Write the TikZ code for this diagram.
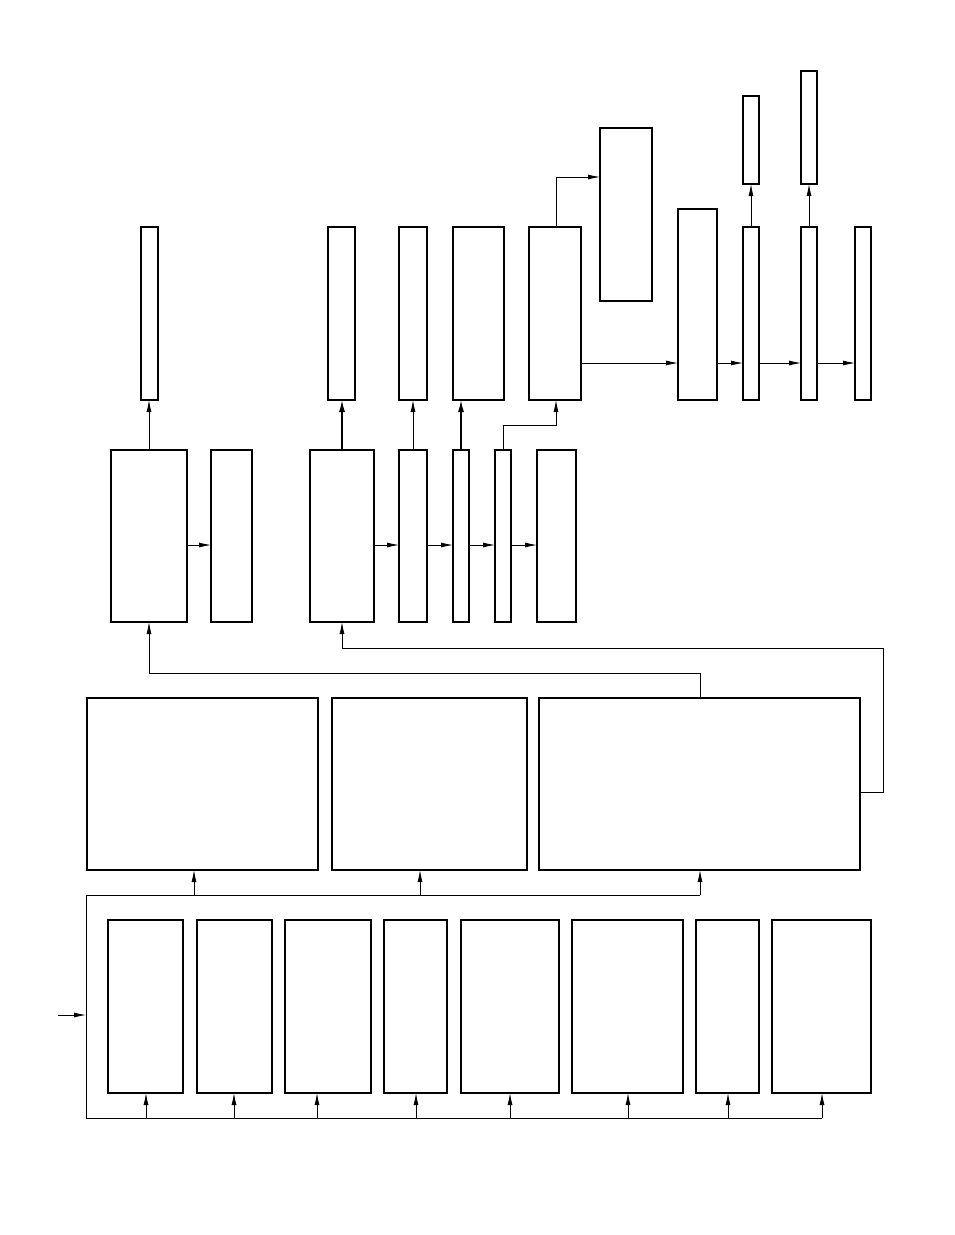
\documentclass[tikz,border=0pt]{standalone}
\usetikzlibrary{arrows.meta}
\tikzset{
  box/.style={draw=black,line width=1.3pt,inner sep=0pt,outer sep=0pt,rectangle,fill=none},
  conn/.style={draw=black,line width=0.8pt},
  arr/.style={conn,-{Latex[length=12pt,width=5pt]}},
  tconn/.style={draw=black,line width=1.4pt},
  tarr/.style={tconn,-{Latex[length=12pt,width=6pt]}}
}
\newcommand\bx[5]{\node[box,minimum width={(#4-#2)*1pt},minimum height={(#5-#3)*1pt}] (#1) at ({(#2+#4)/2},{(#3+#5)/2}) {};}
\begin{document}
\begin{tikzpicture}[x=1pt,y=-1pt]
\useasboundingbox (0,0) rectangle (954,1235);
% top row
\bx{A1}{141}{227}{158}{400}
\bx{A2}{328}{227}{355}{400}
\bx{A3}{399}{227}{427}{400}
\bx{A4}{453}{227}{504}{400}
\bx{A5}{529}{227}{581}{400}
\bx{A6}{600}{128}{652}{301}
\bx{A7}{678}{209}{717}{400}
\bx{A8}{743}{227}{759}{400}
\bx{U8}{743}{96}{759}{184}
\bx{A9}{801}{227}{817}{400}
\bx{U9}{801}{71}{817}{184}
\bx{A10}{855}{227}{871}{400}
% middle row
\bx{B1}{111}{450}{187}{622}
\bx{B2}{211}{450}{252}{622}
\bx{B3}{310}{450}{374}{622}
\bx{B4}{399}{450}{427}{622}
\bx{B5}{453}{450}{469}{622}
\bx{B6}{495}{450}{511}{622}
\bx{B7}{537}{450}{576}{622}
% third row
\bx{C1}{87}{698}{318}{870}
\bx{C2}{332}{698}{527}{870}
\bx{C3}{539}{698}{860}{870}
% bottom row
\bx{D1}{108}{920}{183}{1093}
\bx{D2}{197}{920}{272}{1093}
\bx{D3}{285}{920}{371}{1093}
\bx{D4}{384}{920}{447}{1093}
\bx{D5}{461}{920}{559}{1093}
\bx{D6}{572}{920}{683}{1093}
\bx{D7}{696}{920}{759}{1093}
\bx{D8}{772}{920}{871}{1093}
% coordinates
\coordinate (in) at (58,1015);
\coordinate (fl) at (86,1015);
\coordinate (ftl) at (86,895);
\coordinate (ftr) at (700,895);
\coordinate (fbl) at (86,1118);
\coordinate (fbr) at (822,1118);
% input and frame
\draw[arr] (in) -- (fl);
\draw[conn] (ftr) -- (ftl) -- (fbl) -- (fbr);
\foreach \n/\x in {D1/146,D2/234,D3/317,D4/416,D5/510,D6/628,D7/728,D8/822}{
  \draw[arr] (\x,1118) -- (\n.south -| \x,0);
}
\draw[arr] (194,895) -- (C1.south -| 194,0);
\draw[arr] (420,895) -- (C2.south -| 420,0);
\draw[arr] (ftr) -- (C3.south -| 700,0);
% C3 feedback lines
\draw[arr] (C3.north -| 700,0) -- (700,673) -- (149,673) -- (B1.south -| 149,0);
\draw[arr] (C3.east |- 0,792) -- (883,792) -- (883,648) -- (342,648) -- (B3.south -| 342,0);
% middle row horizontals
\draw[arr] (B1.east |- 0,545) -- (B2.west |- 0,545);
\draw[arr] (B3.east |- 0,545) -- (B4.west |- 0,545);
\draw[arr] (B4.east |- 0,545) -- (B5.west |- 0,545);
\draw[arr] (B5.east |- 0,545) -- (B6.west |- 0,545);
\draw[arr] (B6.east |- 0,545) -- (B7.west |- 0,545);
% middle to top
\draw[arr] (B1.north -| 149,0) -- (A1.south -| 149,0);
\draw[tarr] (B3.north -| 342,0) -- (A2.south -| 342,0);
\draw[arr] (B4.north -| 413,0) -- (A3.south -| 413,0);
\draw[tarr] (B5.north -| 461,0) -- (A4.south -| 461,0);
\draw[arr] (B6.north -| 503,0) -- (503,425) -- (556,425) -- (A5.south -| 556,0);
% top row
\draw[arr] (A5.north -| 556,0) -- (556,177) -- (A6.west |- 0,177);
\draw[arr] (A5.east |- 0,363) -- (A7.west |- 0,363);
\draw[arr] (A7.east |- 0,363) -- (A8.west |- 0,363);
\draw[arr] (A8.east |- 0,363) -- (A9.west |- 0,363);
\draw[arr] (A9.east |- 0,363) -- (A10.west |- 0,363);
\draw[arr] (A8.north) -- (U8.south);
\draw[arr] (A9.north) -- (U9.south);
\end{tikzpicture}
\end{document}
